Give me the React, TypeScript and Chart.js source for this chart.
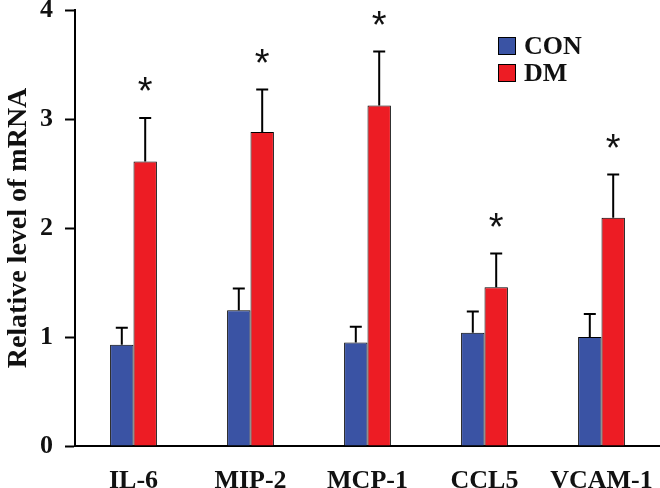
import React, { useEffect, useRef } from "react";
import { Chart, registerables } from "chart.js";

Chart.register(...registerables);

const categories = ["IL-6", "MIP-2", "MCP-1", "CCL5", "VCAM-1"];
const conValues = [0.93, 1.245, 0.95, 1.04, 1.0];
const conErrors = [0.155, 0.2, 0.145, 0.195, 0.21];
const dmValues = [2.61, 2.88, 3.125, 1.456, 2.095];
const dmErrors = [0.4, 0.39, 0.495, 0.31, 0.395];
const dmSignificance = ["*", "*", "*", "*", "*"];
const yTicks = [0, 1, 2, 3, 4];

const CON_COLOR = "#3A53A4";
const DM_COLOR = "#ED1C24";
const SERIF = "'Liberation Serif', 'Times New Roman', serif";

const errorBarPlugin = {
  id: "errorBars",
  afterDatasetsDraw(chart: any) {
    const ctx = chart.ctx;
    const yScale = chart.scales.y;
    const errs = [conErrors, dmErrors];
    ctx.save();
    ctx.strokeStyle = "#000";
    ctx.lineWidth = 2;
    chart.data.datasets.forEach((ds: any, di: number) => {
      const meta = chart.getDatasetMeta(di);
      meta.data.forEach((bar: any, i: number) => {
        const v = ds.data[i];
        const top = yScale.getPixelForValue(v + errs[di][i]);
        const base = bar.y;
        ctx.beginPath();
        ctx.moveTo(bar.x, base);
        ctx.lineTo(bar.x, top);
        ctx.moveTo(bar.x - 6, top);
        ctx.lineTo(bar.x + 6, top);
        ctx.stroke();
        if (di === 1 && dmSignificance[i]) {
          ctx.fillStyle = "#111";
          ctx.font = "38px 'Liberation Sans', Arial, sans-serif";
          ctx.textAlign = "center";
          ctx.textBaseline = "middle";
          ctx.fillText(dmSignificance[i], bar.x, top - 24);
        }
      });
    });
    ctx.restore();
  },
};

const legendPlugin = {
  id: "customLegend",
  afterDraw(chart: any) {
    const ctx = chart.ctx;
    const area = chart.chartArea;
    const x0 = area.right - 162;
    const y0 = area.top + 27;
    ctx.save();
    chart.data.datasets.forEach((ds: any, i: number) => {
      const y = y0 + i * 27;
      ctx.fillStyle = ds.backgroundColor;
      ctx.fillRect(x0, y, 17, 17);
      ctx.strokeStyle = "#000";
      ctx.lineWidth = 1;
      ctx.strokeRect(x0 + 0.5, y + 0.5, 17, 17);
      ctx.fillStyle = "#111";
      ctx.font = `bold 26px ${SERIF}`;
      ctx.textAlign = "left";
      ctx.textBaseline = "middle";
      ctx.fillText(ds.label, x0 + 26, y + 10);
    });
    ctx.restore();
  },
};

export default function App() {
  const ref = useRef<HTMLCanvasElement | null>(null);
  useEffect(() => {
    if (!ref.current) return;
    const chart = new Chart(ref.current, {
      type: "bar",
      data: {
        labels: categories,
        datasets: [
          {
            label: "CON",
            data: conValues,
            backgroundColor: CON_COLOR,
            borderColor: "#000",
            borderWidth: 1,
            categoryPercentage: 0.4,
            barPercentage: 1.0,
          },
          {
            label: "DM",
            data: dmValues,
            backgroundColor: DM_COLOR,
            borderColor: "#000",
            borderWidth: 1,
            categoryPercentage: 0.4,
            barPercentage: 1.0,
          },
        ],
      },
      options: {
        responsive: false,
        animation: false,
        layout: { padding: { top: 10, right: 0, left: 0, bottom: 0 } },
        plugins: {
          legend: { display: false },
          tooltip: { enabled: false },
        },
        scales: {
          x: {
            grid: { display: false, drawTicks: false },
            border: { display: true, color: "#000", width: 2 },
            ticks: {
              color: "#111",
              padding: 20,
              font: { family: SERIF, size: 26, weight: "bold" },
              maxRotation: 0,
              autoSkip: false,
            },
            afterFit(scale: any) {
              scale.height = 42;
              scale.paddingLeft = 0;
              scale.paddingRight = 0;
            },
          },
          y: {
            min: 0,
            max: 4,
            afterBuildTicks(scale: any) {
              scale.ticks = yTicks.map((v) => ({ value: v }));
            },
            grid: {
              display: true,
              drawOnChartArea: false,
              drawTicks: true,
              tickLength: 10,
              tickWidth: 2,
              tickColor: "#000",
            },
            border: { display: true, color: "#000", width: 2 },
            ticks: {
              color: "#111",
              padding: 12,
              font: { family: SERIF, size: 26, weight: "bold" },
            },
            title: {
              display: true,
              text: "Relative level of mRNA",
              color: "#111",
              padding: { top: 2, bottom: 0 },
              font: { family: SERIF, size: 28, weight: "bold" },
            },
            afterFit(scale: any) {
              scale.width = 75;
              scale.paddingTop = 0;
              scale.paddingBottom = 0;
            },
          },
        },
      },
      plugins: [errorBarPlugin, legendPlugin],
    });
    return () => chart.destroy();
  }, []);
  return (
    <div style={{ position: "fixed", left: 0, top: 0, width: 660, height: 488, background: "#fff" }}>
      <canvas ref={ref} width={660} height={488} style={{ width: 660, height: 488 }} />
    </div>
  );
}
